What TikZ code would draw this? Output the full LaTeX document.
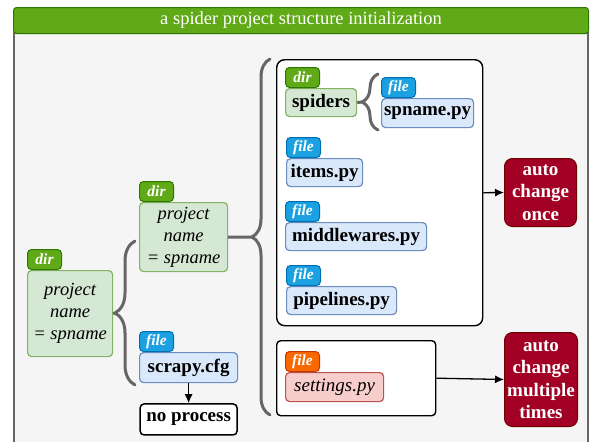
\documentclass[tikz,border=0pt]{standalone}
\usepackage{fontspec}
\setmainfont{Liberation Serif}
\usetikzlibrary{arrows, arrows.meta, decorations.pathreplacing, positioning}

\definecolor{dirgreen}{HTML}{60A917}
\definecolor{dirline}{HTML}{2D7600}
\definecolor{greenfill}{HTML}{D5E8D4}
\definecolor{greenline}{HTML}{82B366}
\definecolor{fileblue}{HTML}{1BA1E2}
\definecolor{fileline}{HTML}{006EAF}
\definecolor{bluefill}{HTML}{DAE8FC}
\definecolor{blueline}{HTML}{6C8EBF}
\definecolor{setorange}{HTML}{FA6800}
\definecolor{setline}{HTML}{C73500}
\definecolor{redfill}{HTML}{F8CECC}
\definecolor{redline}{HTML}{B85450}
\definecolor{autored}{HTML}{A20025}
\definecolor{autoline}{HTML}{6F0000}
\definecolor{panelgray}{HTML}{F5F5F5}
\definecolor{bracegray}{HTML}{666666}

\begin{document}
\begin{tikzpicture}[x=1pt, y=-1pt, node distance=20pt, auto]
			\tikzset{%
				tagnode/.style={rectangle, rounded corners=4pt, line width=1pt, text=white, inner sep=0pt, minimum width=34pt, minimum height=20pt, font=\fontsize{15.5}{16}\selectfont\bfseries\itshape},
				dirtag/.style={tagnode, fill=dirgreen, draw=dirline},
				filetag/.style={tagnode, fill=fileblue, draw=fileline},
				settag/.style={tagnode, fill=setorange, draw=setline},
				itembox/.style={rectangle, rounded corners=4pt, line width=1.2pt, inner sep=1pt, align=center, anchor=north west, font=\fontsize{19}{22}\selectfont\bfseries},
				dirbox/.style={itembox, fill=greenfill, draw=greenline},
				projbox/.style={dirbox, font=\fontsize{18.5}{22}\selectfont\itshape},
				filebox/.style={itembox, fill=bluefill, draw=blueline},
				setbox/.style={itembox, fill=redfill, draw=redline, font=\fontsize{19}{22}\selectfont\itshape},
				autobox/.style={rectangle, rounded corners=8pt, fill=autored, draw=autoline, line width=1pt, text=white, inner sep=1pt, align=center, anchor=north west, font=\fontsize{19}{22.5}\selectfont\bfseries},
				groupbox/.style={rectangle, draw=black, fill=white, line width=1.4pt, anchor=north west},
				bracket/.style={decorate, draw=bracegray, line width=3pt, line cap=round, line join=round},
				stub/.style={draw=bracegray, line width=3pt},
				link/.style={-{Latex[length=9pt, width=8pt]}, line width=1.3pt}
			}
			\useasboundingbox (0,0) rectangle (590,442);
			\clip (0,0) rectangle (590,442);
			% panel and title
			\draw[fill=panelgray, draw=bracegray, line width=1.2pt] (14,33) rectangle (588,460);
			\node[rectangle, rounded corners=3pt, fill=dirgreen, draw=dirline, line width=1pt, text=white, anchor=north west, minimum width=575pt, minimum height=26pt, inner sep=0pt, font=\fontsize{18.5}{20}\selectfont] (title) at (13,7) {a spider project structure initialization};
			% left part
			\node[projbox, minimum width=85pt, minimum height=86pt](proj1) at (27,270) {project\\name\\= spname};
			\node[dirtag, above right=0pt and 0pt of proj1.north west](proj1tag){dir};
			\node[projbox, minimum width=88pt, minimum height=69pt](proj2) at (139,202) {project\\name\\= spname};
			\node[dirtag, above right=0pt and 0pt of proj2.north west](proj2tag){dir};
			\node[filebox, minimum width=98pt, minimum height=30pt](cfg) at (139,352) {scrapy.cfg};
			\node[filetag, above right=0pt and 0pt of cfg.north west](cfgtag){file};
			\node[itembox, draw=black, fill=white, line width=1.5pt, anchor=north, minimum width=97pt, minimum height=31pt, below=20pt of cfg](noproc){no process};
			\draw[link] (cfg.south) -- (noproc.north);
			% groups
			\node[groupbox, rounded corners=8pt, minimum width=206pt, minimum height=266pt](grpA) at (276,59) {};
			\node[groupbox, rounded corners=4pt, minimum width=159pt, minimum height=75pt](grpB) at (276,340) {};
			\node[dirbox, minimum width=71pt, minimum height=28pt](spiders) at (285,88) {spiders};
			\node[dirtag, above right=0pt and 0pt of spiders.north west](spiderstag){dir};
			\node[filebox, minimum width=92pt, minimum height=29pt](spname) at (381,98) {spname.py};
			\node[filetag, above right=0pt and 0pt of spname.north west](spnametag){file};
			\node[filebox, minimum width=76pt, minimum height=28pt](items) at (286,158) {items.py};
			\node[filetag, above right=0pt and 0pt of items.north west](itemstag){file};
			\node[filebox, minimum width=141pt, minimum height=28pt](midw) at (285,222) {middlewares.py};
			\node[filetag, above right=0pt and 0pt of midw.north west](midwtag){file};
			\node[filebox, minimum width=110pt, minimum height=28pt](pipes) at (286,286) {pipelines.py};
			\node[filetag, above right=0pt and 0pt of pipes.north west](pipestag){file};
			\node[setbox, minimum width=98pt, minimum height=29pt](settings) at (285,372) {settings.py};
			\node[settag, above right=0pt and 0pt of settings.north west](settingstag){file};
			% results
			\node[autobox, minimum width=72pt, minimum height=68pt](once) at (504,158) {auto\\change\\once};
			\node[autobox, minimum width=73pt, minimum height=94pt](multi) at (504,332) {auto\\change\\multiple\\times};
			\draw[link] (grpA.east) -- (once.west);
			\draw[link] (grpB.east) -- (multi.west);
			% braces
			\coordinate (b1tip) at (115,313);
			\coordinate (b2tip) at (252,237);
			\coordinate (b3tip) at (362,102);
			\draw[bracket, decoration={brace, amplitude=20pt}] (135,385) -- (135,241);
			\draw[stub] (proj1.east) -- (b1tip);
			\draw[bracket, decoration={brace, amplitude=18pt}] (270,415) -- (270,59);
			\draw[stub] (proj2.east) -- (b2tip);
			\draw[bracket, decoration={brace, amplitude=16pt}] (378,130) -- (378,74);
			\draw[stub] (spiders.east) -- (b3tip);
		\end{tikzpicture}
\end{document}
